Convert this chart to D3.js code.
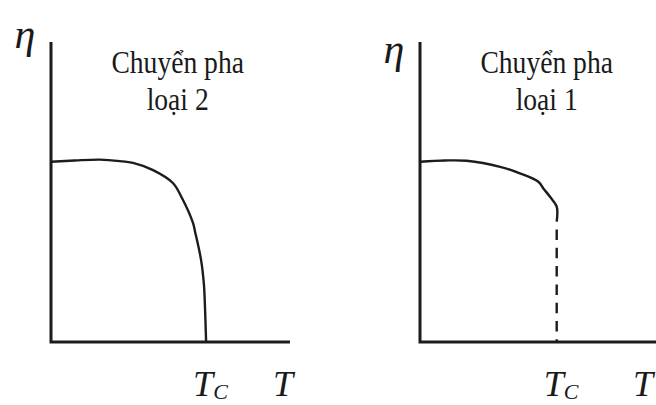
<!DOCTYPE html>
<html>
<head>
<meta charset="utf-8">
<script src="https://cdn.jsdelivr.net/npm/d3@7"></script>
<style>
  html, body { margin: 0; padding: 0; background: #fff; }
  svg { display: block; }
  text { fill: #1a1a1a; }
</style>
</head>
<body>
<svg id="chart" width="656" height="405"></svg>
<script>
// Order parameter η versus temperature T for the two kinds of phase transition
const panelTitles = [["Chuyển pha", "loại 2"], ["Chuyển pha", "loại 1"]];
const axisLabelY = "η";
const axisLabelX = "T";
const criticalLabel = ["T", "C"];

// Second-order transition: η falls continuously to zero at T_C
const tSecond   = [0, 0.10, 0.205, 0.289, 0.343, 0.427, 0.510, 0.548, 0.594, 0.603, 0.628, 0.640, 0.644, 0.649];
const etaSecond = [0.601, 0.605, 0.608, 0.603, 0.597, 0.573, 0.530, 0.480, 0.397, 0.367, 0.273, 0.190, 0.123, 0];
const tcSecond = 0.649;

// First-order transition: η jumps from a finite value to zero at T_C
const tFirst   = [0, 0.105, 0.195, 0.335, 0.418, 0.495, 0.516, 0.544, 0.572, 0.572];
const etaFirst = [0.601, 0.605, 0.604, 0.584, 0.562, 0.534, 0.512, 0.484, 0.451, 0.401];
const tcFirst = 0.572;

const svg = d3.select("#chart");
const ink = "#1c1c1c";
const serif = "'Liberation Serif', 'Times New Roman', serif";

const panels = [
  { x0: 51,  title: panelTitles[0], t: tSecond, eta: etaSecond, tc: tcSecond, jump: false, etaLabelY: 48, tShift: 17 },
  { x0: 420, title: panelTitles[1], t: tFirst,  eta: etaFirst,  tc: tcFirst,  jump: true,  etaLabelY: 63, tShift: 26 }
];

const y = d3.scaleLinear().domain([0, 1]).range([342, 42]);

// horizontally condensed serif text, centred on (cx, cy)
function condensed(g, cx, cy, str, size, sx) {
  return g.append("text")
    .attr("transform", `translate(${cx},${cy}) scale(${sx},1)`)
    .attr("text-anchor", "middle")
    .style("font-family", serif).style("font-size", size + "px")
    .text(str);
}

panels.forEach(p => {
  const x = d3.scaleLinear().domain([0, 1]).range([p.x0, p.x0 + 239]);
  const g = svg.append("g");

  // axes
  g.append("path")
    .attr("d", `M${x(0)},${y(1)}V${y(0)}H${x(1)}`)
    .attr("fill", "none").attr("stroke", ink)
    .attr("stroke-width", 3).attr("stroke-linejoin", "miter");

  // order-parameter curve
  const pts = p.t.map((t, i) => [t, p.eta[i]]);
  const line = d3.line().x(d => x(d[0])).y(d => y(d[1])).curve(d3.curveCatmullRom.alpha(0.5));
  g.append("path")
    .attr("d", line(pts))
    .attr("fill", "none").attr("stroke", ink)
    .attr("stroke-width", 2.4).attr("stroke-linecap", "butt");

  // discontinuity at T_C
  if (p.jump) {
    const last = pts[pts.length - 1];
    g.append("line")
      .attr("x1", x(p.tc)).attr("x2", x(p.tc))
      .attr("y1", y(last[1])).attr("y2", y(0))
      .attr("stroke", ink).attr("stroke-width", 2.4)
      .attr("stroke-dasharray", "10.5,7.8")
      .attr("stroke-dashoffset", 10.5);
  }

  // title
  const cx = x(0.53);
  condensed(g, cx, 73, p.title[0], 31, 0.89);
  condensed(g, cx, 110, p.title[1], 31, 0.89);

  // η label
  g.append("text")
    .attr("x", x(0) - 26).attr("y", p.etaLabelY)
    .attr("text-anchor", "middle")
    .style("font-family", serif).style("font-style", "italic").style("font-size", "42px")
    .text(axisLabelY);

  // T_C and T tick labels
  const tcText = g.append("text")
    .attr("x", x(p.tc) - 13).attr("y", 396)
    .style("font-family", serif).style("font-style", "italic").style("font-size", "36px");
  tcText.append("tspan").text(criticalLabel[0]);
  tcText.append("tspan").attr("dy", 3).style("font-size", "22px").text(criticalLabel[1]);

  g.append("text")
    .attr("x", x(1) - p.tShift).attr("y", 396)
    .style("font-family", serif).style("font-style", "italic").style("font-size", "36px")
    .text(axisLabelX);
});
</script>
</body>
</html>
